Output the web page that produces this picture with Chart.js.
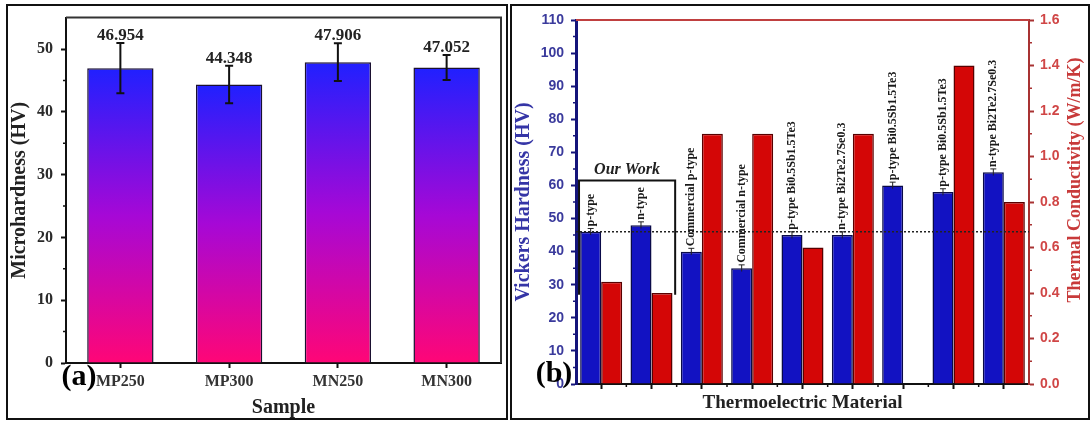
<!DOCTYPE html>
<html>
<head>
<meta charset="utf-8">
<script src="https://cdn.jsdelivr.net/npm/chart.js@4.4.1/dist/chart.umd.min.js"></script>
<style>
  html, body { margin: 0; padding: 0; background: #fff; width: 1091px; height: 421px; overflow: hidden; }
  .wrap { position: absolute; top: 0; }
  #wrapA { left: 0; width: 506px; height: 421px; }
  #wrapB { left: 511px; width: 580px; height: 421px; }
  .frame { position: absolute; border: 2px solid #111; box-sizing: border-box; pointer-events: none; }
  #frameA { left: 6px; top: 4px; width: 502px; height: 416px; }
  #frameB { left: 510px; top: 4px; width: 580px; height: 416px; }
</style>
</head>
<body>
<div class="wrap" id="wrapA"><canvas id="chartA" width="506" height="421"></canvas></div>
<div class="wrap" id="wrapB"><canvas id="chartB" width="580" height="421"></canvas></div>
<div class="frame" id="frameA"></div>
<div class="frame" id="frameB"></div>
<script>
// ---- (a) microhardness of the samples ----
const sampleNames = ['MP250', 'MP300', 'MN250', 'MN300'];
const microhardness = [46.954, 44.348, 47.906, 47.052];
const microhardnessErr = [4, 3, 3, 2];
const microTicks = [0, 10, 20, 30, 40, 50];
const microMax = 55;

// ---- (b) hardness and thermal conductivity of thermoelectric materials ----
const materials = [
  'p-type', 'n-type', 'Commercial p-type', 'Commercial n-type',
  'p-type Bi0.5Sb1.5Te3', 'n-type Bi2Te2.7Se0.3', 'p-type Bi0.5Sb1.5Te3',
  'p-type Bi0.5Sb1.5Te3', 'n-type Bi2Te2.7Se0.3'
];
const vickersHV = [46, 48, 40, 35, 45, 45, 60, 58, 64];
const vickersErr = [1, 1, 1, 1, 1, 1, 1, 1, 1];
const thermalK = [0.45, 0.40, 1.10, 1.10, 0.60, 1.10, null, 1.40, 0.80];
const hvTicks = [0, 10, 20, 30, 40, 50, 60, 70, 80, 90, 100, 110];
const kTicks = [0.0, 0.2, 0.4, 0.6, 0.8, 1.0, 1.2, 1.4, 1.6];
const referenceHV = 46;
const ourWorkIdx = [0, 1];
const ourWorkRange = [27, 61.5];

const SERIF = "'Liberation Serif', 'Times New Roman', serif";
const SANS = "'Liberation Sans', Arial, sans-serif";
Chart.defaults.font.family = SERIF;
Chart.defaults.animation = false;

function drawMinor(ctx, scale, values, len, color, width) {
  ctx.save();
  ctx.strokeStyle = color;
  ctx.lineWidth = width;
  ctx.beginPath();
  values.forEach(v => {
    const p = scale.getPixelForValue(v);
    if (scale.isHorizontal()) {
      ctx.moveTo(p, scale.top); ctx.lineTo(p, scale.top + len);
    } else if (scale.position === 'left') {
      ctx.moveTo(scale.right, p); ctx.lineTo(scale.right - len, p);
    } else {
      ctx.moveTo(scale.left, p); ctx.lineTo(scale.left + len, p);
    }
  });
  ctx.stroke();
  ctx.restore();
}

function text(ctx, str, x, y, font, color, rot) {
  ctx.save();
  ctx.translate(x, y);
  if (rot) ctx.rotate(rot);
  ctx.font = font;
  ctx.fillStyle = color;
  ctx.textAlign = 'center';
  ctx.textBaseline = 'middle';
  ctx.fillText(str, 0, 0);
  ctx.restore();
}

// vertical blue-to-pink fill for each bar
function barGradient(c) {
  const chart = c.chart;
  if (c.type !== 'data' || !chart.chartArea) return '#8a10e0';
  const y = chart.scales.y;
  const top = y.getPixelForValue(c.raw);
  const base = y.getPixelForValue(0);
  const g = chart.ctx.createLinearGradient(0, top, 0, base);
  g.addColorStop(0, '#2020ff');
  g.addColorStop(0.5, '#a608d6');
  g.addColorStop(1, '#ff0676');
  return g;
}

const panelA = {
  id: 'panelA',
  afterDatasetsDraw(chart) {
    const { ctx, chartArea: a, scales } = chart;
    const meta = chart.getDatasetMeta(0);
    // error bars and value labels
    meta.data.forEach((bar, i) => {
      const v = microhardness[i], e = microhardnessErr[i];
      const yt = scales.y.getPixelForValue(v + e);
      const yb = scales.y.getPixelForValue(v - e);
      ctx.save();
      ctx.strokeStyle = '#111';
      ctx.lineWidth = 2;
      ctx.beginPath();
      ctx.moveTo(bar.x, yt); ctx.lineTo(bar.x, yb);
      ctx.moveTo(bar.x - 4, yt); ctx.lineTo(bar.x + 4, yt);
      ctx.moveTo(bar.x - 4, yb); ctx.lineTo(bar.x + 4, yb);
      ctx.stroke();
      ctx.font = 'bold 17px ' + SERIF;
      ctx.fillStyle = '#222';
      ctx.textAlign = 'center';
      ctx.textBaseline = 'alphabetic';
      ctx.fillText(v.toFixed(3), bar.x, yt - 3);
      ctx.restore();
    });
  },
  afterDraw(chart) {
    const { ctx, chartArea: a, scales } = chart;
    // top and right edges of the frame
    ctx.save();
    ctx.strokeStyle = '#333';
    ctx.lineWidth = 2;
    ctx.beginPath();
    ctx.moveTo(a.left, a.top); ctx.lineTo(a.right, a.top); ctx.lineTo(a.right, a.bottom);
    ctx.stroke();
    ctx.restore();
    const minors = microTicks.map(v => v + 5).filter(v => v < microMax);
    drawMinor(ctx, scales.y, minors, 3, '#111', 1.5);
    text(ctx, 'Microhardness (HV)', a.left - 46, (a.top + a.bottom) / 2, 'bold 20px ' + SERIF, '#222', -Math.PI / 2);
    text(ctx, 'Sample', (a.left + a.right) / 2, a.bottom + 45, 'bold 20px ' + SERIF, '#222');
    text(ctx, '(a)', a.left + 13, a.bottom + 14, 'bold 30px ' + SERIF, '#000');
  }
};

new Chart(document.getElementById('chartA'), {
  type: 'bar',
  data: {
    labels: sampleNames,
    datasets: [{
      data: microhardness,
      backgroundColor: barGradient,
      borderColor: '#1a1030',
      borderWidth: 1.5,
      categoryPercentage: 0.61,
      barPercentage: 1
    }]
  },
  options: {
    responsive: false,
    devicePixelRatio: 1,
    events: [],
    layout: { padding: { left: 0, right: 5, top: 15, bottom: 0 } },
    plugins: { legend: { display: false }, tooltip: { enabled: false } },
    scales: {
      x: {
        z: 1,
        offset: true,
        grid: { display: true, drawOnChartArea: false, drawTicks: true, tickLength: 5, offset: false, color: '#111', tickWidth: 2 },
        border: { display: true, color: '#111', width: 2 },
        ticks: { font: { size: 16, weight: 'bold', family: SERIF }, color: '#333', padding: 4, maxRotation: 0 },
        afterFit(s) { s.height = 58; }
      },
      y: {
        min: 0,
        max: microMax,
        afterBuildTicks(s) { s.ticks = microTicks.map(v => ({ value: v })); },
        grid: { display: true, drawOnChartArea: false, drawTicks: true, tickLength: 5, color: '#111', tickWidth: 2 },
        border: { display: true, color: '#111', width: 2 },
        ticks: { font: { size: 16, weight: 'bold', family: SERIF }, color: '#2a2a2a', padding: 8 },
        afterFit(s) { s.width = 66; }
      }
    }
  },
  plugins: [panelA]
});

const panelB = {
  id: 'panelB',
  afterDatasetsDraw(chart) {
    const { ctx, chartArea: a, scales } = chart;
    const x = scales.x, y = scales.y;
    // reference level
    const yr = y.getPixelForValue(referenceHV);
    ctx.save();
    ctx.strokeStyle = '#222';
    ctx.lineWidth = 1.5;
    ctx.setLineDash([2, 2]);
    ctx.beginPath();
    ctx.moveTo(a.left, yr); ctx.lineTo(a.right, yr);
    ctx.stroke();
    ctx.restore();

    // bracket grouping this work's samples
    const half = (x.getPixelForValue(1) - x.getPixelForValue(0)) / 2;
    const bx0 = x.getPixelForValue(ourWorkIdx[0]) - half * 0.88;
    const bx1 = x.getPixelForValue(ourWorkIdx[1]) + half * 0.94;
    const byTop = y.getPixelForValue(ourWorkRange[1]);
    const byBot = y.getPixelForValue(ourWorkRange[0]);
    ctx.save();
    ctx.strokeStyle = '#111';
    ctx.lineWidth = 2;
    ctx.beginPath();
    ctx.moveTo(bx0, byBot); ctx.lineTo(bx0, byTop); ctx.lineTo(bx1, byTop); ctx.lineTo(bx1, byBot);
    ctx.stroke();
    ctx.restore();
    text(ctx, 'Our Work', (bx0 + bx1) / 2, byTop - 11, 'italic bold 16px ' + SERIF, '#222');

    // small error caps and rotated material names above the hardness bars
    const meta = chart.getDatasetMeta(0);
    meta.data.forEach((bar, i) => {
      const v = vickersHV[i], e = vickersErr[i];
      const yt = y.getPixelForValue(v + e);
      const yb = y.getPixelForValue(v - e);
      ctx.save();
      ctx.strokeStyle = '#222';
      ctx.lineWidth = 1;
      ctx.beginPath();
      ctx.moveTo(bar.x, yt); ctx.lineTo(bar.x, yb);
      ctx.moveTo(bar.x - 3, yt); ctx.lineTo(bar.x + 3, yt);
      ctx.stroke();
      ctx.translate(bar.x, yt - 2);
      ctx.rotate(-Math.PI / 2);
      ctx.font = 'bold 12px ' + SERIF;
      ctx.fillStyle = '#1a1a1a';
      ctx.textAlign = 'left';
      ctx.textBaseline = 'middle';
      ctx.fillText(materials[i], 0, 0);
      ctx.restore();
    });
  },
  afterDraw(chart) {
    const { ctx, chartArea: a, scales } = chart;
    // top edge in the conductivity colour
    ctx.save();
    ctx.strokeStyle = '#c04040';
    ctx.lineWidth = 2;
    ctx.beginPath();
    ctx.moveTo(a.left, a.top); ctx.lineTo(a.right, a.top);
    ctx.stroke();
    ctx.restore();
    drawMinor(ctx, scales.y, hvTicks.map(v => v + 5).filter(v => v < 110), 3, '#14147a', 1.5);
    drawMinor(ctx, scales.y1, kTicks.map(v => v + 0.1).filter(v => v < 1.6), 3, '#a83232', 1.5);
    drawMinor(ctx, scales.x, materials.slice(1).map((m, i) => i + 0.5), 3, '#111', 1.5);

    text(ctx, 'Vickers Hardness (HV)', a.left - 52, (a.top + a.bottom) / 2, 'bold 20px ' + SERIF, '#3535a6', -Math.PI / 2);
    text(ctx, 'Thermal Conductivity (W/m/K)', a.right + 46, 180, 'bold 18px ' + SERIF, '#c83a3a', -Math.PI / 2);
    text(ctx, 'Thermoelectric Material', (a.left + a.right) / 2, a.bottom + 19, 'bold 19px ' + SERIF, '#222');
    text(ctx, '(b)', a.left - 22, a.bottom - 10, 'bold 30px ' + SERIF, '#000');
  }
};

new Chart(document.getElementById('chartB'), {
  type: 'bar',
  data: {
    labels: materials,
    datasets: [
      {
        label: 'Vickers Hardness',
        data: vickersHV,
        yAxisID: 'y',
        backgroundColor: '#1212c2',
        borderColor: '#0a0a48',
        borderWidth: 1.5,
        categoryPercentage: 0.835,
        barPercentage: 1
      },
      {
        label: 'Thermal Conductivity',
        data: thermalK,
        yAxisID: 'y1',
        backgroundColor: '#d40606',
        borderColor: '#580000',
        borderWidth: 1.5,
        categoryPercentage: 0.835,
        barPercentage: 1
      }
    ]
  },
  options: {
    responsive: false,
    devicePixelRatio: 1,
    events: [],
    layout: { padding: { left: 0, right: 0, top: 20, bottom: 0 } },
    plugins: { legend: { display: false }, tooltip: { enabled: false } },
    scales: {
      x: {
        z: 1,
        offset: true,
        grid: { display: true, drawOnChartArea: false, drawTicks: true, tickLength: 5, offset: false, color: '#111', tickWidth: 2 },
        border: { display: true, color: '#111', width: 2 },
        ticks: { display: false },
        afterFit(s) { s.height = 37; }
      },
      y: {
        position: 'left',
        min: 0,
        max: 110,
        afterBuildTicks(s) { s.ticks = hvTicks.map(v => ({ value: v })); },
        grid: { display: true, drawOnChartArea: false, drawTicks: true, tickLength: 5, color: '#14147a', tickWidth: 2 },
        border: { display: true, color: '#14147a', width: 3 },
        ticks: { font: { size: 14, weight: 'bold', family: SANS }, color: '#3a3a9c', padding: 7 },
        afterFit(s) { s.width = 65; }
      },
      y1: {
        position: 'right',
        min: 0,
        max: 1.6,
        afterBuildTicks(s) { s.ticks = kTicks.map(v => ({ value: v })); },
        grid: { display: true, drawOnChartArea: false, drawTicks: true, tickLength: 5, color: '#a83232', tickWidth: 2 },
        border: { display: true, color: '#a83232', width: 2 },
        ticks: { font: { size: 14, weight: 'bold', family: SANS }, color: '#d04646', padding: 6, callback: v => Number(v).toFixed(1) },
        afterFit(s) { s.width = 62; }
      }
    }
  },
  plugins: [panelB]
});
</script>
</body>
</html>
